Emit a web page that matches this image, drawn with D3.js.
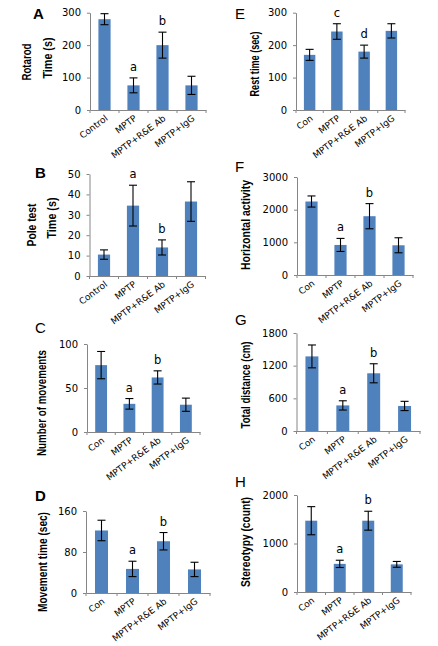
<!DOCTYPE html>
<html>
<head>
<meta charset="utf-8">
<script src="https://cdn.jsdelivr.net/npm/d3@7"></script>
<style>
  body { margin: 0; background: #fff; }
  svg { display: block; }
  .tick text { font-family: "DejaVu Sans", Verdana, sans-serif; fill: #000; }
  .ytitle { font-family: "Liberation Sans", Arial, sans-serif; font-weight: bold; font-size: 12.5px; }
  .letter { font-family: "Liberation Sans", Arial, sans-serif; font-size: 15px; }
  .sig { font-family: "DejaVu Sans", Verdana, sans-serif; font-size: 11.5px; }
</style>
</head>
<body>
<div id="chart"></div>
<script>
// 组别名称
const catsLong = ["Control", "MPTP", "MPTP+R&E Ab", "MPTP+IgG"];
const catsShort = ["Con", "MPTP", "MPTP+R&E Ab", "MPTP+IgG"];

// A  rotarod
const rotarodMean = [280, 76, 200, 76];
const rotarodErr = [17, 23, 40, 28];
const rotarodSig = ["", "a", "b", ""];
const rotarodTicks = [0, 100, 200, 300];

// B  pole test
const poleMean = [10.5, 34.5, 14, 36.5];
const poleErr = [2.3, 10, 3.7, 9.7];
const poleSig = ["", "a", "b", ""];
const poleTicks = [0, 10, 20, 30, 40, 50];

// C  number of movements
const moveNumMean = [76, 32, 62, 31];
const moveNumErr = [15.5, 6, 7.5, 7.5];
const moveNumSig = ["", "a", "b", ""];
const moveNumTicks = [0, 50, 100];

// D  movement time
const moveTimeMean = [122, 47, 101, 46];
const moveTimeErr = [20, 15, 17, 14];
const moveTimeSig = ["", "a", "b", ""];
const moveTimeTicks = [0, 80, 160];

// E  rest time
const restMean = [170, 242, 180, 244];
const restErr = [17, 24, 20, 22];
const restSig = ["", "c", "d", ""];
const restTicks = [0, 100, 200, 300];

// F  horizontal activity
const horizMean = [2250, 920, 1800, 910];
const horizErr = [170, 200, 385, 230];
const horizSig = ["", "a", "b", ""];
const horizTicks = [0, 1000, 2000, 3000];

// G  total distance
const distMean = [1370, 470, 1060, 460];
const distErr = [210, 85, 175, 85];
const distSig = ["", "a", "b", ""];
const distTicks = [0, 600, 1200, 1800];

// H  stereotypy
const stereoMean = [1470, 580, 1470, 570];
const stereoErr = [290, 75, 195, 60];
const stereoSig = ["", "a", "b", ""];
const stereoTicks = [0, 1000, 2000];

// 每个面板的布局（位置只在这里）; len = 标题长度（原图字体较窄）
const panels = [
  { letter: "A", bold: true, lx: 33, ly: 19, cats: catsLong, mean: rotarodMean, err: rotarodErr, sig: rotarodSig, ticks: rotarodTicks,
    xr: [90, 206], yr: [110, 12.7], titles: [{ t: "Rotarod", x: 26.5, y: 62, len: 37 }, { t: "Time (s)", x: 47.5, y: 58, len: 41 }] },
  { letter: "B", bold: true, lx: 35, ly: 178, cats: catsLong, mean: poleMean, err: poleErr, sig: poleSig, ticks: poleTicks,
    xr: [89.5, 205.5], yr: [276, 174], titles: [{ t: "Pole test", x: 32, y: 225, len: 43 }, { t: "Time (s)", x: 52, y: 218, len: 41 }] },
  { letter: "C", bold: false, lx: 35, ly: 333, cats: catsShort, mean: moveNumMean, err: moveNumErr, sig: moveNumSig, ticks: moveNumTicks,
    xr: [87, 200], yr: [432, 344], titles: [{ t: "Number of movements", x: 42, y: 403, len: 106 }] },
  { letter: "D", bold: true, lx: 35, ly: 501, cats: catsShort, mean: moveTimeMean, err: moveTimeErr, sig: moveTimeSig, ticks: moveTimeTicks,
    xr: [86, 210], yr: [593, 511], titles: [{ t: "Movement time (sec)", x: 43, y: 562, len: 100 }] },
  { letter: "E", bold: false, lx: 235, ly: 19, cats: catsShort, mean: restMean, err: restErr, sig: restSig, ticks: restTicks,
    xr: [296, 405], yr: [110, 12.7], titles: [{ t: "Rest time (sec)", x: 255, y: 64, len: 65 }] },
  { letter: "F", bold: false, lx: 235, ly: 172, cats: catsShort, mean: horizMean, err: horizErr, sig: horizSig, ticks: horizTicks,
    xr: [297, 413], yr: [275, 177], titles: [{ t: "Horizontal activity", x: 246, y: 225, len: 90 }] },
  { letter: "G", bold: false, lx: 235, ly: 325, cats: catsShort, mean: distMean, err: distErr, sig: distSig, ticks: distTicks,
    xr: [296.5, 420], yr: [431, 333], titles: [{ t: "Total distance (cm)", x: 246, y: 385, len: 87 }] },
  { letter: "H", bold: false, lx: 235, ly: 487, cats: catsShort, mean: stereoMean, err: stereoErr, sig: stereoSig, ticks: stereoTicks,
    xr: [297, 411], yr: [592, 495], titles: [{ t: "Stereotypy (count)", x: 246, y: 542, len: 90 }] }
];

const W = 438, H = 646;
const barColor = "#4f81bd";
const axisColor = "#868686";

const svg = d3.select("#chart").append("svg")
  .attr("width", W).attr("height", H)
  .attr("viewBox", [0, 0, W, H]);

panels.forEach(p => {
  const g = svg.append("g");
  const rows = p.cats.map((c, i) => ({ cat: c, mean: p.mean[i], err: p.err[i], sig: p.sig[i] }));

  const x = d3.scaleBand().domain(p.cats).range(p.xr).paddingInner(0.58).paddingOuter(0.29);
  const xTick = d3.scaleBand().domain(p.cats).range(p.xr);
  const yMax = p.ticks[p.ticks.length - 1];
  const y = d3.scaleLinear().domain([0, yMax]).range(p.yr);

  // 条形
  g.selectAll("rect.bar").data(rows).join("rect")
    .attr("class", "bar")
    .attr("x", d => x(d.cat))
    .attr("y", d => y(d.mean))
    .attr("width", x.bandwidth())
    .attr("height", d => y(0) - y(d.mean))
    .attr("fill", barColor);

  // y 轴
  const yAxis = g.append("g")
    .attr("transform", `translate(${p.xr[0]},0)`)
    .call(d3.axisLeft(y).tickValues(p.ticks).tickFormat(d3.format("d"))
      .tickSize(3).tickPadding(6).tickSizeOuter(0));
  yAxis.selectAll("path, line").attr("stroke", axisColor);
  yAxis.selectAll("text").style("font-size", "10px");

  // x 轴（标签斜放）
  const xAxis = g.append("g")
    .attr("transform", `translate(0,${p.yr[0]})`)
    .call(d3.axisBottom(xTick).tickSize(0).tickSizeOuter(0));
  xAxis.select(".domain").attr("stroke", axisColor);
  // 分隔刻度线
  xAxis.selectAll("line.sep").data(d3.range(p.cats.length + 1)).join("line")
    .attr("class", "sep")
    .attr("x1", i => p.xr[0] + i * xTick.step())
    .attr("x2", i => p.xr[0] + i * xTick.step())
    .attr("y1", 0).attr("y2", 3)
    .attr("stroke", axisColor);
  xAxis.selectAll(".tick text")
    .attr("x", 0).attr("y", 0).attr("dy", "0.35em")
    .attr("transform", "translate(2,7) rotate(-37)")
    .style("text-anchor", "end")
    .style("font-size", "9px");

  // 误差线
  const eb = g.selectAll("g.err").data(rows).join("g").attr("class", "err")
    .attr("stroke", "#000").attr("stroke-width", 1.1);
  const cx = d => x(d.cat) + x.bandwidth() / 2;
  eb.append("line").attr("x1", cx).attr("x2", cx)
    .attr("y1", d => y(d.mean - d.err)).attr("y2", d => y(d.mean + d.err));
  eb.append("line").attr("x1", d => cx(d) - 4).attr("x2", d => cx(d) + 4)
    .attr("y1", d => y(d.mean + d.err)).attr("y2", d => y(d.mean + d.err));
  eb.append("line").attr("x1", d => cx(d) - 4).attr("x2", d => cx(d) + 4)
    .attr("y1", d => y(d.mean - d.err)).attr("y2", d => y(d.mean - d.err));

  // 显著性字母
  g.selectAll("text.sig").data(rows.filter(d => d.sig)).join("text")
    .attr("class", "sig")
    .attr("x", cx)
    .attr("y", d => y(d.mean + d.err) - 7)
    .attr("text-anchor", "middle")
    .text(d => d.sig);

  // y 轴标题
  p.titles.forEach(t => {
    g.append("text")
      .attr("class", "ytitle")
      .attr("transform", `translate(${t.x},${t.y}) rotate(-90)`)
      .attr("text-anchor", "middle")
      .attr("dominant-baseline", "central")
      .attr("textLength", t.len)
      .attr("lengthAdjust", "spacingAndGlyphs")
      .text(t.t);
  });

  // 面板字母
  g.append("text")
    .attr("class", "letter")
    .attr("x", p.lx).attr("y", p.ly)
    .attr("font-weight", p.bold ? "bold" : "normal")
    .text(p.letter);
});
</script>
</body>
</html>
